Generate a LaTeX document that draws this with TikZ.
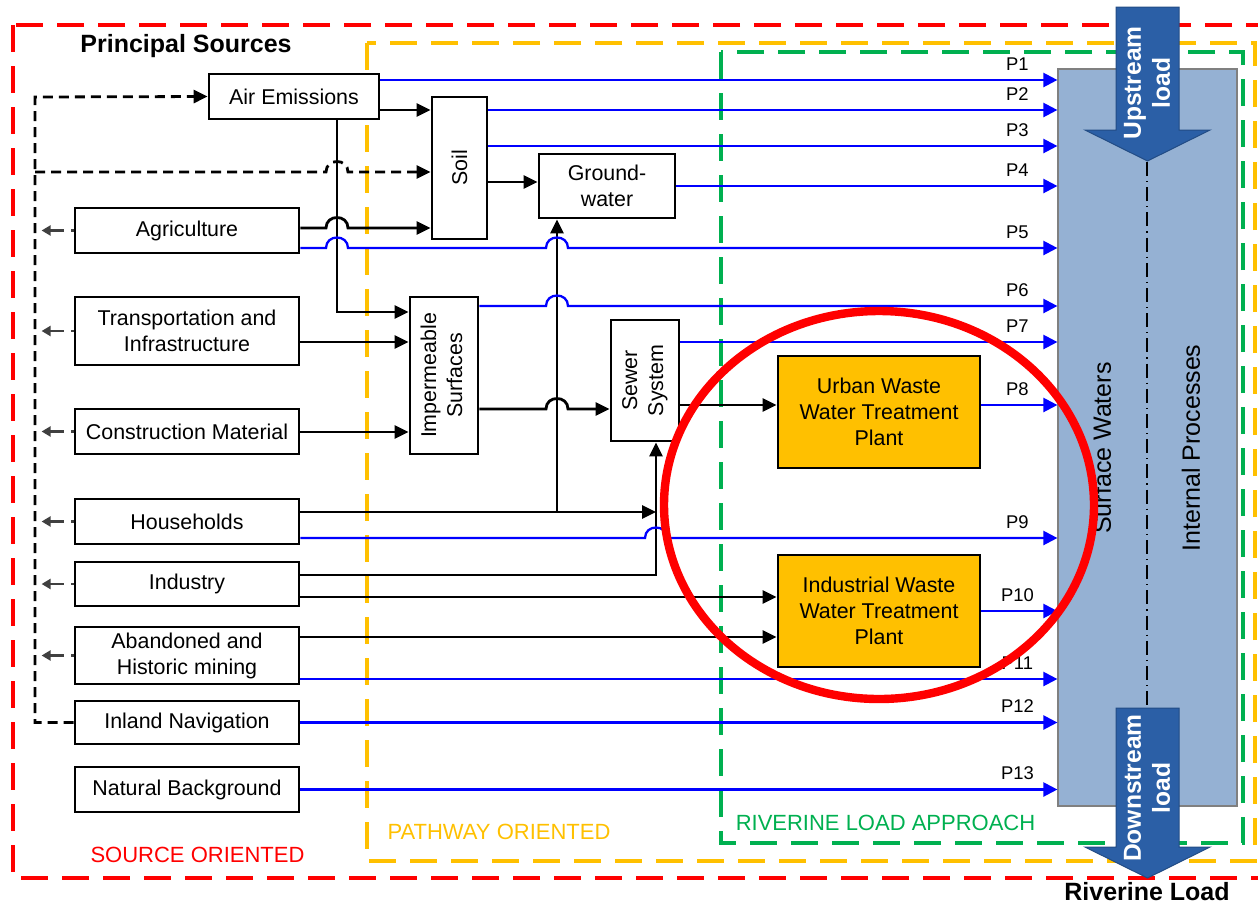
\documentclass[tikz,border=0pt]{standalone}
\usepackage{fontspec}
\setmainfont{Liberation Sans}
\usepackage{graphicx}
\usepackage{tikz}
\usetikzlibrary{arrows.meta}
\definecolor{srcred}{HTML}{FF0000}
\definecolor{pathorange}{HTML}{FFC000}
\definecolor{rivgreen}{HTML}{00B050}
\definecolor{pblue}{HTML}{0000FF}
\definecolor{riverfill}{HTML}{95B1D3}
\definecolor{loadblue}{HTML}{2B5FA6}
% small hop where a line crosses another one
\newcommand{\jumpover}[2]{-- ({#1-11},#2) .. controls ({#1-11},{#2-14}) and ({#1+11},{#2-14}) .. ({#1+11},#2)}

\begin{document}
\begin{tikzpicture}[x=0.5pt, y=-0.5pt,
  box/.style={draw, line width=1.4pt, fill=white, inner sep=1pt, align=center, font=\fontsize{10.7}{13}\selectfont},
  src/.style={box, minimum width=112pt, minimum height=22.5pt},
  plant/.style={box, fill=pathorange, minimum width=101pt, minimum height=56pt},
  conn/.style={line width=1.4pt, -{Triangle[length=7pt,width=6.5pt]}},
  feed/.style={pblue, line width=1.15pt, -{Triangle[length=7pt,width=7pt]}},
  plab/.style={above=1pt, xshift=-20pt, black, font=\fontsize{9.2}{10}\selectfont},
  loopline/.style={line width=1.4pt, dash pattern=on 5pt off 3pt},
  gout/.style={draw=black!75, line width=1.3pt, dash pattern=on 1.5pt off 3.5pt on 20pt off 1pt, -{Triangle[length=4.5pt,width=5pt]}},
  zone/.style={line width=1.6pt, dash pattern=on 13.5pt off 7pt},
  zonelab/.style={font=\fontsize{11}{13}\selectfont},
  loadarrow/.style={fill=loadblue, draw=loadblue!80!black, line width=0.5pt},
  loadtext/.style={white, rotate=90, align=center, font=\bfseries\fontsize{12.3}{14.5}\selectfont}
]
  \useasboundingbox (0,0) rectangle (1258,906);
  % approach zones
  \draw[zone, srcred] (13,25) rectangle (1266,878);
  \draw[zone, pathorange] (367,43) rectangle (1255,861);
  \draw[zone, rivgreen] (721,52) rectangle (1243,843);
  \node[font=\bfseries\fontsize{12.5}{15}\selectfont] (title) at (186,46) {Principal Sources};
  \node[zonelab, srcred] (srclab) at (197.5,855) {SOURCE ORIENTED};
  \node[zonelab, pathorange] (pathlab) at (499,832) {PATHWAY ORIENTED};
  \node[zonelab, rivgreen] (rivlab) at (885.5,823) {RIVERINE LOAD APPROACH};
  \node[font=\bfseries\fontsize{12.5}{15}\selectfont] (outlab) at (1147,892) {Riverine Load};

  % river
  \node[draw=black!50, fill=riverfill, line width=0.6pt, minimum width=89.5pt, minimum height=368.5pt, inner sep=0pt] (river) at (1147.5,437.5) {};
  \draw[line width=0.7pt, dash pattern=on 7pt off 2.5pt on 0.6pt off 2.5pt] (1147,162) -- (1147,706);
  \node[rotate=90, font=\fontsize{12.5}{15}\selectfont] (swlab) at (1102,448) {Surface Waters};
  \node[rotate=90, font=\fontsize{12.5}{15}\selectfont] (iplab) at (1191,448) {Internal Processes};
  \draw[loadarrow] (1116,7) -- (1179,7) -- (1179,130) -- (1210,130) -- (1147.5,161) -- (1085,130) -- (1116,130) -- cycle;
  \node[loadtext] (up) at (1147,83) {Upstream\\load};
  \draw[loadarrow] (1116,708) -- (1179,708) -- (1179,847) -- (1210,847) -- (1147.5,878) -- (1085,847) -- (1116,847) -- cycle;
  \node[loadtext] (down) at (1147,788) {Downstream\\load};

  % sources
  \node[src, minimum width=85pt] (air) at (294,96.5) {Air Emissions};
  \node[src] (agri) at (187,230.5) {Agriculture};
  \node[src, minimum height=34pt] (trans) at (187,331) {Transportation and\\Infrastructure};
  \node[src] (constr) at (187,431.5) {Construction Material};
  \node[src] (house) at (187,521.5) {Households};
  \node[src, minimum height=22pt] (ind) at (187,584) {Industry};
  \node[src, minimum height=28.5pt] (aband) at (187,655.5) {Abandoned and\\Historic mining};
  \node[src, minimum height=21.5pt] (inland) at (187,722.5) {Inland Navigation};
  \node[src] (natural) at (187,789.5) {Natural Background};

  % pathways
  \node[box, minimum width=27.5pt, minimum height=71pt] (soil) at (459.5,168) {\rotatebox{90}{Soil}};
  \node[box, minimum width=68pt, minimum height=32pt] (gw) at (607,186) {Ground-\\water};
  \node[box, minimum width=34pt, minimum height=78.5pt] (imp) at (444,375.5)
    {\rotatebox{90}{\begin{tabular}{@{}c@{}}Impermeable\\Surfaces\end{tabular}}};
  \node[box, minimum width=34pt, minimum height=60.5pt] (sewer) at (645,380.5)
    {\rotatebox{90}{\begin{tabular}{@{}c@{}}Sewer\\System\end{tabular}}};
  \node[plant] (uw) at (879,412) {Urban Waste\\Water Treatment\\Plant};
  \node[plant] (iw) at (879,611) {Industrial Waste\\Water Treatment\\Plant};

  % black flows
  \draw[conn] (air.east |- 0,110) -- (soil.west |- 0,110);
  \draw[conn] (337,0 |- air.south) -- (337,312) -- (imp.west |- 0,312);
  \draw[conn] (agri.east |- 0,228) \jumpover{337}{228} -- (soil.west |- 0,228);
  \draw[conn] (soil.east |- 0,182) -- (gw.west |- 0,182);
  \draw[conn] (trans.east |- 0,342) -- (imp.west |- 0,342);
  \draw[conn] (constr.east |- 0,432) -- (imp.west |- 0,432);
  \draw[conn] (imp.east |- 0,409) \jumpover{557}{409} -- (sewer.west |- 0,409);
  \coordinate (hsplit) at (557,512);
  \coordinate (sewin) at (656,512);
  \draw[conn] (house.east |- hsplit) -- (sewin);
  \draw[conn] (hsplit) -- (hsplit |- gw.south);
  \draw[conn] (ind.east |- 0,575) -- (656,575) -- (656,0 |- sewer.south);
  \draw[conn] (sewer.east |- 0,405) -- (uw.west |- 0,405);
  \draw[conn] (ind.east |- 0,597) -- (iw.west |- 0,597);
  \draw[conn] (aband.east |- 0,637) -- (iw.west |- 0,637);

  % dashed loop and outputs to the left
  \draw[loopline, -{Triangle[length=7pt,width=6.5pt]}] (inland.west) -- (35,722.5) -- (35,97) -- (air.west);
  \draw[loopline, -{Triangle[length=7pt,width=6.5pt]}] (35,172) \jumpover{337}{172} -- (soil.west |- 0,172);
  \foreach \n in {agri,trans,constr,house,ind,aband}
    \draw[gout] (\n.west) -- ++(-32,0);

  % pathways P1..P13
  \foreach \from/\yy/\pl in {air/80/P1, soil/110/P2, soil/146/P3, gw/186/P4, sewer/342/P7, uw/405/P8, iw/611/P10, aband/679/P11, inland/722.5/P12, natural/789.5/P13}
    \draw[feed] (\from.east |- 0,\yy) -- (river.west |- 0,\yy) node[plab] {\pl};
  \draw[feed] (agri.east |- 0,248) \jumpover{337}{248} \jumpover{557}{248} -- (river.west |- 0,248) node[plab] {P5};
  \draw[feed] (imp.east |- 0,306) \jumpover{557}{306} -- (river.west |- 0,306) node[plab] {P6};
  \draw[feed] (house.east |- 0,538) \jumpover{656}{538} -- (river.west |- 0,538) node[plab] {P9};

  % highlight
  \draw[srcred, line width=4.2pt] (879,505) ellipse (215 and 194);
\end{tikzpicture}
\end{document}
